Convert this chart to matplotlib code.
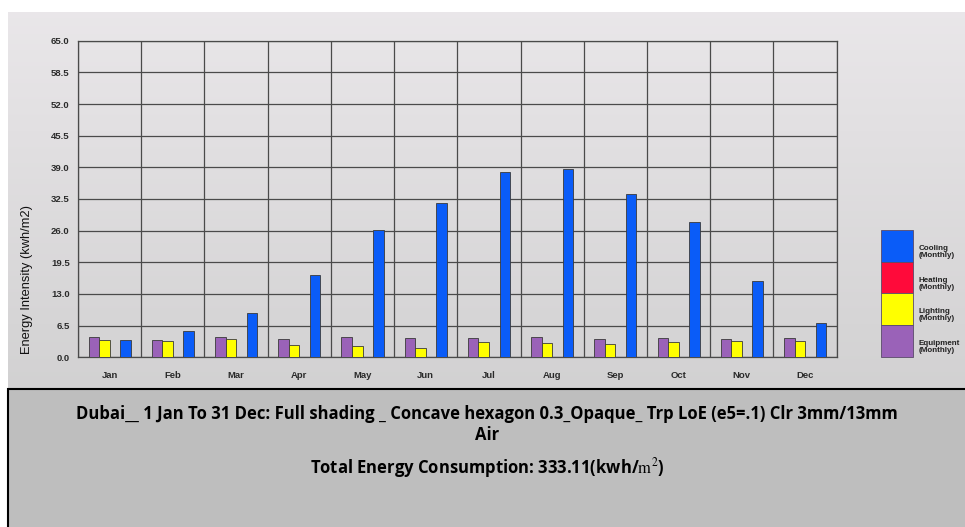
import numpy as np
import matplotlib
matplotlib.use("Agg")
import matplotlib.pyplot as plt
from matplotlib.patches import Rectangle

# Monthly energy intensity (kWh/m2)
months = ["Jan", "Feb", "Mar", "Apr", "May", "Jun",
          "Jul", "Aug", "Sep", "Oct", "Nov", "Dec"]
equipment = [4.1, 3.6, 4.1, 3.8, 4.1, 3.9, 3.9, 4.1, 3.8, 4.0, 3.8, 3.9]
lighting = [3.5, 3.3, 3.7, 2.6, 2.4, 2.0, 3.1, 2.9, 2.8, 3.1, 3.4, 3.4]
heating = [0.0] * 12
cooling = [3.6, 5.5, 9.1, 16.9, 26.1, 31.7, 38.1, 38.6, 33.6, 27.8, 15.7, 7.0]
yticks = [0.0, 6.5, 13.0, 19.5, 26.0, 32.5, 39.0, 45.5, 52.0, 58.5, 65.0]

series = [
    ("Equipment\n(Monthly)", equipment, "#9a62b8"),
    ("Lighting\n(Monthly)", lighting, "#ffff00"),
    ("Heating\n(Monthly)", heating, "#ff0a3a"),
    ("Cooling\n(Monthly)", cooling, "#0a5cf8"),
]

plt.rcParams["font.family"] = ["Liberation Sans", "DejaVu Sans"]
plt.rcParams["mathtext.fontset"] = "stix"

W, H = 965, 527
fig = plt.figure(figsize=(W / 100, H / 100), dpi=100)
fig.patch.set_facecolor("white")

# gradient backdrop behind the chart
bg = fig.add_axes([8 / W, 0, 1 - 8 / W, 1 - 12 / H])
grad = np.linspace(0, 1, 256).reshape(-1, 1)
top_c = np.array([0.915, 0.905, 0.915])
bot_c = np.array([0.79, 0.79, 0.79])
img = top_c + (bot_c - top_c) * grad[..., None]
img = np.repeat(img, 2, axis=1)
bg.imshow(img, aspect="auto", extent=[0, 1, 0, 1])
bg.set_axis_off()

# main chart
ax = fig.add_axes([78 / W, 1 - 357.3 / H, (836.7 - 78) / W, (357.3 - 40.7) / H])
ax.set_facecolor("none")
bw = 1 / 6
x = np.arange(len(months))
for k, (name, vals, col) in enumerate(series):
    ax.bar(x + bw * (k + 1.5), vals, width=bw, color=col,
           edgecolor="#3a3a3a", linewidth=0.6, zorder=3)

ax.set_xlim(0, 12)
ax.set_ylim(0, 65)
ax.set_yticks(yticks)
ax.set_yticklabels([f"{v:.1f}" for v in yticks], fontsize=6.8,
                   fontweight="bold", color="#2a2a2a")
ax.set_xticks(x + 0.5)
ax.set_xticklabels(months, fontsize=6.8, fontweight="bold", color="#2a2a2a")
ax.set_xticks(np.arange(13), minor=True)
ax.tick_params(axis="both", which="both", length=0)
ax.tick_params(axis="y", pad=6)
ax.tick_params(axis="x", pad=10)
ax.grid(True, axis="y", which="major", color="#4a4a4a", linewidth=0.9, zorder=1)
ax.grid(True, axis="x", which="minor", color="#4a4a4a", linewidth=0.9, zorder=1)
ax.grid(False, axis="x", which="major")
for s in ax.spines.values():
    s.set_color("#4a4a4a")
    s.set_linewidth(0.9)

fig.text(27 / W, 1 - 280 / H, "Energy Intensity (kwh/m2)", rotation=90,
         ha="center", va="center", fontsize=9.3, color="#111111")

# stacked colour key at the right
key_x0, key_w = 880.7, 32
key_top, key_h = 230, 31.7
for k, (name, vals, col) in enumerate(reversed(series)):
    y0 = key_top + k * key_h
    fig.patches.append(Rectangle((key_x0 / W, 1 - (y0 + key_h) / H), key_w / W,
                                 key_h / H, transform=fig.transFigure,
                                 facecolor=col, edgecolor="#5a4a6a", linewidth=0.6))
    fig.text((key_x0 + key_w + 6) / W, 1 - (y0 + key_h / 2 + 6) / H, name,
             fontsize=5.8, fontweight="bold", color="#222222",
             ha="left", va="center", linespacing=1.0)

# caption box
fig.patches.append(Rectangle((8 / W, -0.05), 1.0, (1 - 389 / H) + 0.05,
                             transform=fig.transFigure, facecolor="#bebebe",
                             edgecolor="black", linewidth=1.5))
cap_font = ["Open Sans", "DejaVu Sans"]
fig.text(487 / W, 1 - 419 / H,
         "Dubai__ 1 Jan To 31 Dec: Full shading _ Concave hexagon 0.3_Opaque_ Trp LoE (e5=.1) Clr 3mm/13mm",
         ha="center", va="baseline", fontsize=12, fontweight="bold",
         family=cap_font, color="black")
fig.text(487 / W, 1 - 440 / H, "Air", ha="center", va="baseline",
         fontsize=12, fontweight="bold", family=cap_font, color="black")
fig.text(487 / W, 1 - 473 / H, r"Total Energy Consumption: 333.11(kwh/$\mathrm{m}^2$)",
         ha="center", va="baseline", fontsize=12, fontweight="bold",
         family=cap_font, color="black")

fig.savefig("out.png", dpi=100)
